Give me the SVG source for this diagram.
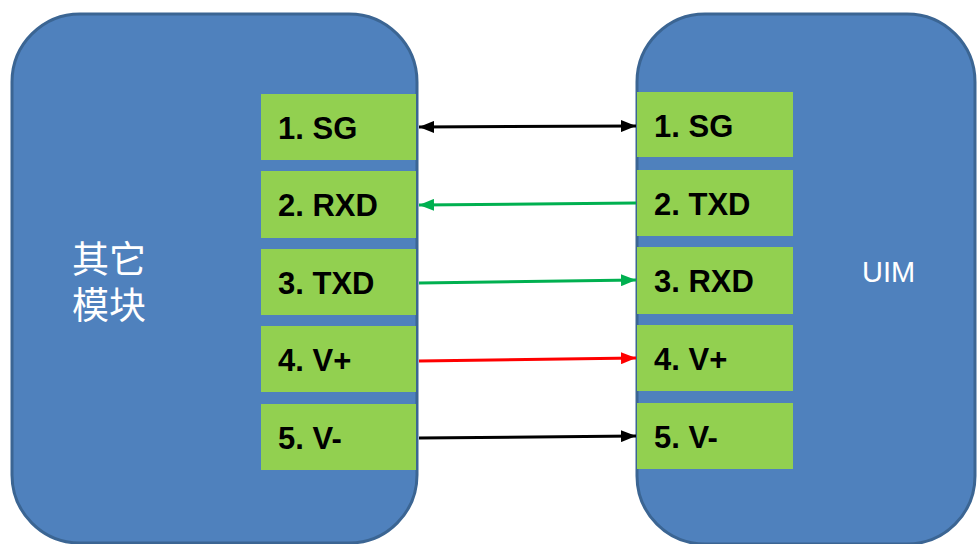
<svg xmlns="http://www.w3.org/2000/svg" width="978" height="544" viewBox="0 0 978 544">
<style>
.mod{fill:#4f81bd;stroke:#3b6593;stroke-width:3}
.pin{fill:#92d050}
.pt{font-family:"Liberation Sans",Arial,sans-serif;font-weight:bold;font-size:31px;fill:#000}
.lbl{font-family:"Liberation Sans","Noto Sans CJK SC",sans-serif;fill:#fff}
.c{fill:none;stroke-width:3}
</style>
<defs>
<marker id="ak" viewBox="0 0 15 12" refX="15" refY="6" markerWidth="15" markerHeight="12" markerUnits="userSpaceOnUse" orient="auto-start-reverse"><path d="M0,0L15,6L0,12z" fill="#000"/></marker>
<marker id="ag" viewBox="0 0 15 12" refX="15" refY="6" markerWidth="15" markerHeight="12" markerUnits="userSpaceOnUse" orient="auto"><path d="M0,0L15,6L0,12z" fill="#00b050"/></marker>
<marker id="ar" viewBox="0 0 15 12" refX="15" refY="6" markerWidth="15" markerHeight="12" markerUnits="userSpaceOnUse" orient="auto"><path d="M0,0L15,6L0,12z" fill="#ff0000"/></marker>
</defs>
<g id="other-module">
<rect class="mod" x="12" y="14" width="405" height="529" rx="68" ry="68"/>
<text class="lbl" font-size="37" x="72" y="273">其它</text>
<text class="lbl" font-size="37" x="72" y="319">模块</text>
</g>
<g id="uim">
<rect class="mod" x="637" y="14" width="338" height="530" rx="68" ry="68"/>
<text class="lbl" font-size="29" x="862" y="282">UIM</text>
</g>
<g id="left-pins">
<g id="l1"><rect class="pin" x="261" y="94" width="155" height="66"/><text class="pt" x="278" y="139">1. SG</text></g>
<g id="l2"><rect class="pin" x="261" y="171" width="155" height="67"/><text class="pt" x="278" y="216">2. RXD</text></g>
<g id="l3"><rect class="pin" x="261" y="249" width="155" height="66"/><text class="pt" x="278" y="294">3. TXD</text></g>
<g id="l4"><rect class="pin" x="261" y="326" width="155" height="66"/><text class="pt" x="278" y="371">4. V+</text></g>
<g id="l5"><rect class="pin" x="261" y="404" width="155" height="66"/><text class="pt" x="278" y="449">5. V-</text></g>
</g>
<g id="right-pins">
<g id="r1"><rect class="pin" x="637" y="92" width="156" height="65"/><text class="pt" x="654" y="137">1. SG</text></g>
<g id="r2"><rect class="pin" x="637" y="170" width="156" height="66"/><text class="pt" x="654" y="215">2. TXD</text></g>
<g id="r3"><rect class="pin" x="637" y="247" width="156" height="67"/><text class="pt" x="654" y="292">3. RXD</text></g>
<g id="r4"><rect class="pin" x="637" y="325" width="156" height="66"/><text class="pt" x="654" y="370">4. V+</text></g>
<g id="r5"><rect class="pin" x="637" y="403" width="156" height="66"/><text class="pt" x="654" y="448">5. V-</text></g>
</g>
<g id="connectors">
<line class="c" stroke="#000" x1="419" y1="127" x2="636" y2="126" marker-start="url(#ak)" marker-end="url(#ak)"/>
<line class="c" stroke="#00b050" x1="636" y1="203" x2="419" y2="205" marker-end="url(#ag)"/>
<line class="c" stroke="#00b050" x1="419" y1="283" x2="636" y2="280" marker-end="url(#ag)"/>
<line class="c" stroke="#ff0000" x1="419" y1="361" x2="636" y2="358" marker-end="url(#ar)"/>
<line class="c" stroke="#000" x1="419" y1="438" x2="636" y2="436" marker-end="url(#ak)"/>
</g>
</svg>
